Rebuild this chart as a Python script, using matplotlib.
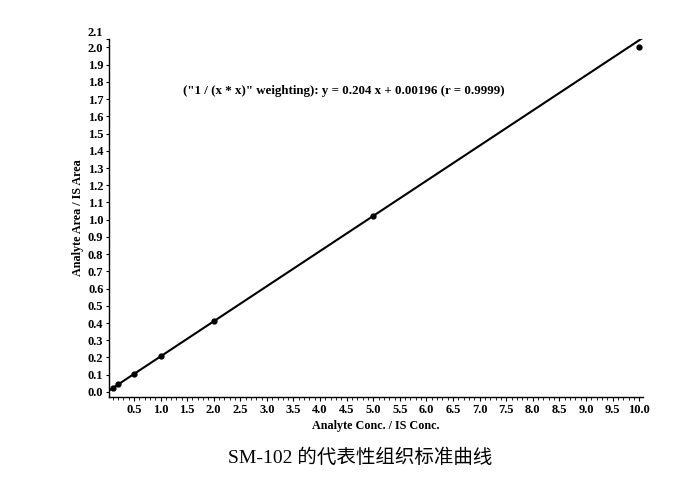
import numpy as np
import matplotlib
matplotlib.use('Agg')
import matplotlib.pyplot as plt
from matplotlib.ticker import MultipleLocator

plt.rcParams['font.family'] = ['Liberation Serif', 'Noto Sans CJK SC', 'DejaVu Sans']

# calibration points (analyte conc / IS conc vs area ratio)
conc = [0.1, 0.2, 0.5, 1.0, 2.0, 5.0, 10.0]
ratio = [0.022, 0.043, 0.104, 0.207, 0.41, 1.02, 2.0]
slope = 0.204
intercept = 0.00196
fit_x = [0.05, 10.05]

xticks = np.arange(0.5, 10.01, 0.5)
yticks = list(np.arange(0.0, 2.01, 0.1))
ytop = 2.05
top_label = '2.1'   # the axis end carries its own squeezed label

fig = plt.figure(figsize=(6.81, 4.86), dpi=100)
ax = fig.add_axes([0.160, 0.183, 0.784, 0.737])

fx = np.array(fit_x)
ax.plot(fx, slope * fx + intercept, color='black', lw=1.5)
ax.plot(conc, ratio, 'o', color='black', markersize=3.5)

ax.set_xlim(0.03, 10.07)
ax.set_ylim(-0.03, ytop)
ax.set_xticks(xticks)
ax.set_xticklabels(['%.1f' % v for v in xticks], fontsize=9, fontweight='bold')
ax.xaxis.set_minor_locator(MultipleLocator(0.1))
ax.set_yticks(yticks + [ytop])
ax.set_yticklabels(['%.1f' % v for v in yticks] + [''], fontsize=9, fontweight='bold')
ax.text(-0.0105, 1.0, top_label, transform=ax.transAxes, ha='right', va='bottom',
        fontsize=9, fontweight='bold')

ax.tick_params(axis='x', which='major', length=3, width=0.8, pad=2)
ax.tick_params(axis='x', which='minor', length=2, width=0.6)
ax.tick_params(axis='y', which='major', length=2, width=0.8, pad=2)

for s in ['top', 'right']:
    ax.spines[s].set_visible(False)
for s in ['left', 'bottom']:
    ax.spines[s].set_linewidth(1.0)

ax.set_xlabel('Analyte Conc. / IS Conc.', fontsize=8.7, fontweight='bold', labelpad=3)
ax.set_ylabel('Analyte Area / IS Area', fontsize=8.7, fontweight='bold', labelpad=3)

ax.text(4.45, 1.745, '("1 / (x * x)" weighting): y = 0.204 x + 0.00196 (r = 0.9999)',
        fontsize=9.3, fontweight='bold', ha='center', va='center')

fig.text(0.529, 0.058, 'SM-102 的代表性组织标准曲线', fontsize=14, ha='center', va='center')

fig.savefig('out.png', dpi=100)
